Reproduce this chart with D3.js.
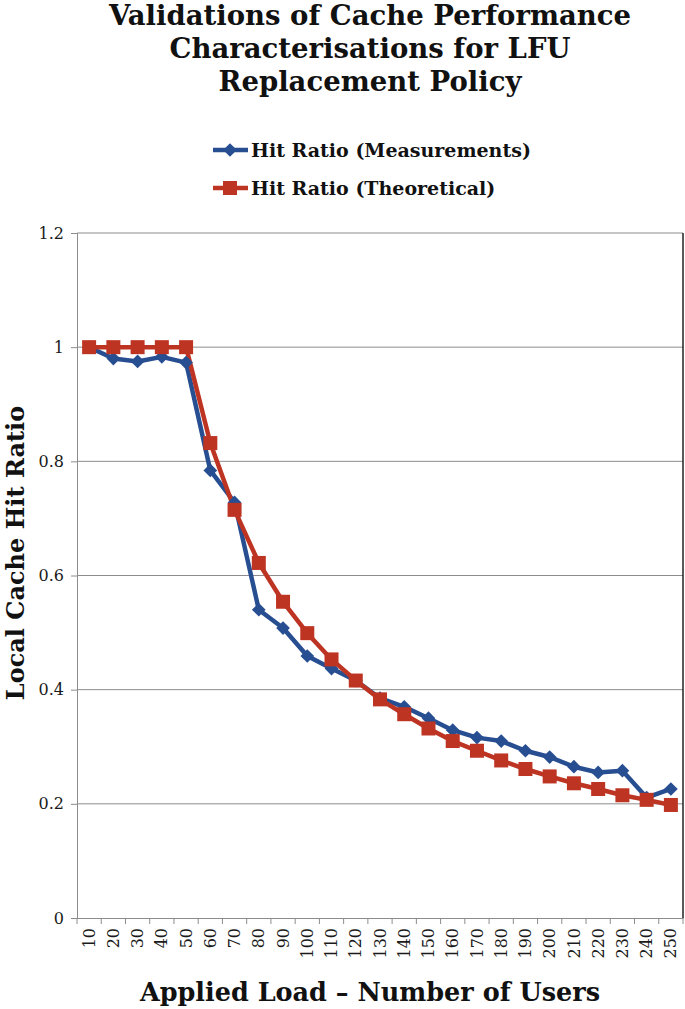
<!DOCTYPE html>
<html><head><meta charset="utf-8">
<script src="https://cdn.jsdelivr.net/npm/d3@7"></script>
<style>body{margin:0;background:#fff}svg{display:block}</style>
</head><body>
<svg id="c" width="685" height="1009"></svg>
<script>
const categories = ["10","20","30","40","50","60","70","80","90","100","110","120","130","140","150","160","170","180","190","200","210","220","230","240","250"];
const measured = [1.0,0.98,0.975,0.983,0.973,0.784,0.728,0.54,0.508,0.459,0.437,0.416,0.385,0.370,0.350,0.329,0.316,0.310,0.293,0.282,0.265,0.255,0.258,0.211,0.226];
const theoretical = [1.0,1.0,1.0,1.0,1.0,0.832,0.715,0.622,0.554,0.499,0.453,0.416,0.383,0.357,0.332,0.310,0.293,0.276,0.261,0.248,0.236,0.226,0.215,0.207,0.198];
const yTicks = [0,0.2,0.4,0.6,0.8,1,1.2];
const titleLines = ["Validations of Cache Performance","Characterisations for LFU","Replacement Policy"];
const seriesNames = ["Hit Ratio (Measurements)","Hit Ratio (Theoretical)"];
const colors = ["#284E92","#BE3423"];

const svg = d3.select("#c");
const L=77,R=683,T=233,B=918;
const x = d3.scaleBand().domain(categories).range([L,R]);
const y = d3.scaleLinear().domain([0,1.2]).range([B,T]);
const serif = "'DejaVu Serif', 'Liberation Serif', serif";

// gridlines
svg.append("g").selectAll("line").data(yTicks.filter(d=>d>0)).join("line")
  .attr("x1",L).attr("x2",R).attr("y1",d=>y(d)).attr("y2",d=>y(d))
  .attr("stroke","#8c8c8c").attr("stroke-width",1);
// right border
svg.append("line").attr("x1",R).attr("x2",R).attr("y1",T).attr("y2",B).attr("stroke","#222").attr("stroke-width",1.5);

// y axis
const ya = svg.append("g").attr("transform",`translate(${L},0)`)
  .call(d3.axisLeft(y).tickValues(yTicks).tickSize(6).tickPadding(7).tickFormat(d=>d3.format("")(d)));
ya.select(".domain").attr("stroke","#8c8c8c");
ya.selectAll(".tick line").attr("stroke","#8c8c8c");
ya.selectAll("text").attr("font-family",serif).attr("font-size",16).attr("fill","#1a1a1a");

// x axis
const xa = svg.append("g").attr("transform",`translate(0,${B})`)
  .call(d3.axisBottom(x).tickSize(0).tickFormat(d=>d));
xa.select(".domain").attr("stroke","#8c8c8c");
xa.selectAll("text").attr("font-family",serif).attr("font-size",16).attr("fill","#1a1a1a")
  .attr("text-anchor","end").attr("dy","0.35em")
  .attr("transform",d=>`translate(0,10) rotate(-90)`).attr("y",0).attr("x",0);
// boundary ticks
const bounds = categories.map(c=>x(c)).concat([R]);
svg.append("g").selectAll("line").data(bounds).join("line")
  .attr("x1",d=>d).attr("x2",d=>d).attr("y1",B).attr("y2",B+6)
  .attr("stroke","#8c8c8c");

// lines
const line = d3.line().x((d,i)=>x(categories[i])+x.bandwidth()/2).y(d=>y(d));
[measured,theoretical].forEach((s,k)=>{
  svg.append("path").datum(s).attr("d",line).attr("fill","none")
    .attr("stroke",colors[k]).attr("stroke-width",4.5).attr("stroke-linejoin","round");
});
// markers
const diamond = d3.symbol().type(d3.symbolDiamond2).size(120);
svg.append("g").selectAll("path").data(measured).join("path")
  .attr("d",diamond).attr("fill",colors[0])
  .attr("transform",(d,i)=>`translate(${x(categories[i])+x.bandwidth()/2},${y(d)})`);
svg.append("g").selectAll("rect").data(theoretical).join("rect")
  .attr("x",(d,i)=>x(categories[i])+x.bandwidth()/2-7).attr("y",d=>y(d)-7)
  .attr("width",14).attr("height",14).attr("fill",colors[1]);

// title
svg.append("g").selectAll("text").data(titleLines).join("text")
  .attr("x",370).attr("y",(d,i)=>25+i*33).attr("text-anchor","middle")
  .attr("font-family",serif).attr("font-weight","bold").attr("font-size",27.5).attr("fill","#111")
  .text(d=>d);

// legend
const lg = svg.append("g");
seriesNames.forEach((n,k)=>{
  const yy = 150+k*38;
  lg.append("line").attr("x1",213).attr("x2",248).attr("y1",yy).attr("y2",yy).attr("stroke",colors[k]).attr("stroke-width",4.5);
  if(k===0) lg.append("path").attr("d",diamond).attr("fill",colors[0]).attr("transform",`translate(230,${yy})`);
  else lg.append("rect").attr("x",223).attr("y",yy-7).attr("width",14).attr("height",14).attr("fill",colors[1]);
  lg.append("text").attr("x",251).attr("y",yy+7).attr("font-family",serif).attr("font-weight","bold")
    .attr("font-size",19).attr("fill","#111").text(n);
});

// axis titles
svg.append("text").attr("x",370).attr("y",1001).attr("text-anchor","middle")
  .attr("font-family",serif).attr("font-weight","bold").attr("font-size",25.5).attr("fill","#111")
  .text("Applied Load – Number of Users");
svg.append("text").attr("transform","translate(24,553) rotate(-90)").attr("text-anchor","middle")
  .attr("font-family",serif).attr("font-weight","bold").attr("font-size",24).attr("fill","#111")
  .text("Local Cache Hit Ratio");
</script>
</body></html>
